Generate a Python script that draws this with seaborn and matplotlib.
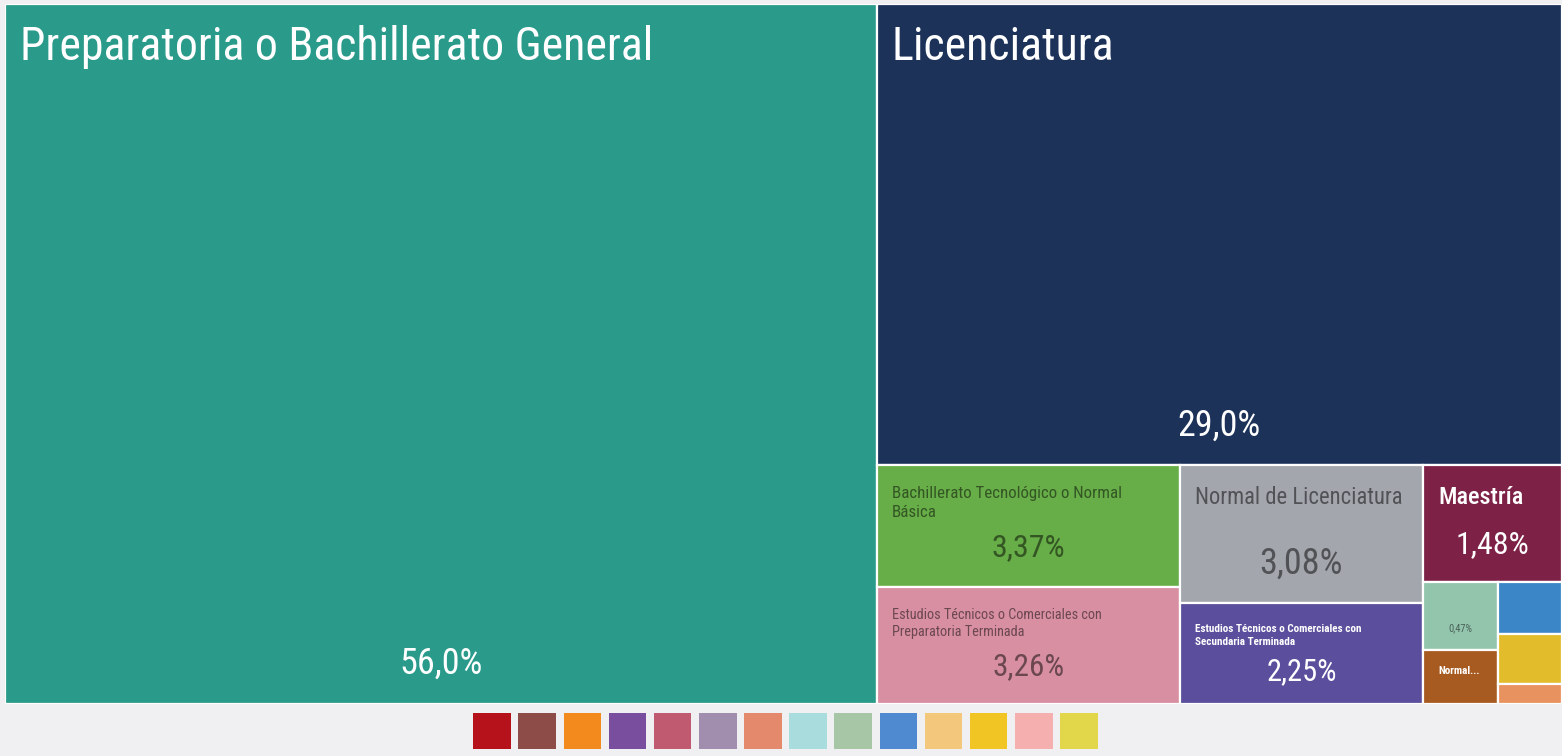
import matplotlib
matplotlib.use("Agg")
import matplotlib.pyplot as plt
from matplotlib import font_manager
from matplotlib.patches import Rectangle, Patch
import seaborn as sns

# data: share of each schooling level (%)
labels = ["Preparatoria o Bachillerato General", "Licenciatura",
          "Bachillerato Tecnológico o Normal Básica",
          "Estudios Técnicos o Comerciales con Preparatoria Terminada",
          "Normal de Licenciatura",
          "Estudios Técnicos o Comerciales con Secundaria Terminada",
          "Maestría", "", "Normal...", "", "", ""]
values = [56.0, 29.0, 3.37, 3.26, 3.08, 2.25, 1.48, 0.47, 0.37, 0.31, 0.29, 0.12]
value_labels = ["56,0%", "29,0%", "3,37%", "3,26%", "3,08%", "2,25%", "1,48%",
                "0,47%", "", "", "", ""]
tile_colors = ["#2A9A8B", "#1C3259", "#67AD48", "#D88FA2", "#A4A6AE", "#5B4E9C",
               "#7D2246", "#93C5AC", "#A85B21", "#3A86C6", "#E2BC2B", "#E8935F"]
legend_colors = ["#B5121B", "#8E4C48", "#F28A1E", "#7A4E9F", "#C05A70", "#A18DAE",
                 "#E5896D", "#A9DCDD", "#A6C6A6", "#4F89CF", "#F3C77C", "#F1C523",
                 "#F5AFAF", "#E2D64B"]

# text styling per tile
label_pt = [33, 33, 12.2, 10.3, 16.3, 8, 17.5, 0, 8, 0, 0, 0]
value_pt = [26, 26, 23, 22.5, 26, 22, 23, 7.5, 0, 0, 0, 0]
dark_text = [False, False, True, True, True, False, False, True, False, False, False, False]
label_weight = ["normal", "normal", "normal", "normal", "normal", "bold",
                "medium", "normal", "bold", "normal", "normal", "normal"]

sns.set_theme(style="white")
available = {f.name for f in font_manager.fontManager.ttflist}
font = next((f for f in ["Liberation Sans Narrow", "Roboto Condensed", "Open Sans Condensed",
                         "Lato", "Noto Sans"] if f in available), "DejaVu Sans")
plt.rcParams["font.family"] = [font, "DejaVu Sans"]

PHI = (1 + 5 ** 0.5) / 2


def squarify(vals, x0, y0, x1, y1, ratio=PHI):
    # squarified treemap, same rules as d3.treemapSquarify
    rects = [None] * len(vals)
    total = float(sum(vals))
    n = len(vals)
    i0 = 0
    while i0 < n:
        dx, dy = x1 - x0, y1 - y0
        s = lo = hi = vals[i0]
        alpha = max(dy / dx, dx / dy) / (total * ratio)
        beta = s * s * alpha
        best = max(hi / beta, beta / lo)
        i1 = i0 + 1
        while i1 < n:
            v = vals[i1]
            s2, lo2, hi2 = s + v, min(lo, v), max(hi, v)
            beta = s2 * s2 * alpha
            r = max(hi2 / beta, beta / lo2)
            if r > best:
                break
            s, lo, hi, best = s2, lo2, hi2, r
            i1 += 1
        if dx < dy:
            yb = y0 + dy * s / total if i1 < n else y1
            x = x0
            for i in range(i0, i1):
                w = dx * vals[i] / s
                rects[i] = (x, y0, w, yb - y0)
                x += w
            y0 = yb
        else:
            xb = x0 + dx * s / total if i1 < n else x1
            y = y0
            for i in range(i0, i1):
                h = dy * vals[i] / s
                rects[i] = (x0, y, xb - x0, h)
                y += h
            x0 = xb
        total -= s
        i0 = i1
    return rects


W, H = 1557, 700
fig = plt.figure(figsize=(15.62, 7.56), dpi=100, facecolor="#F0F0F2")
ax = fig.add_axes([5 / 1562, 52 / 756, W / 1562, H / 756])
ax.set_xlim(0, W)
ax.set_ylim(H, 0)
ax.axis("off")
renderer = fig.canvas.get_renderer()


def wrap(text, max_w, **kw):
    lines, cur = [], ""
    for word in text.split():
        trial = (cur + " " + word).strip()
        t = ax.text(0, 0, trial, **kw)
        width = t.get_window_extent(renderer).width
        t.remove()
        if width > max_w and cur:
            lines.append(cur)
            cur = word
        else:
            cur = trial
    lines.append(cur)
    return "\n".join(lines)


pad = 15
rects = squarify(values, 0, 0, W, H)
for i, (x, y, w, h) in enumerate(rects):
    ax.add_patch(Rectangle((x, y), w, h, facecolor=tile_colors[i],
                           edgecolor="white", linewidth=1.6))
    col = (0, 0, 0, 0.5) if dark_text[i] else "white"
    if labels[i] and label_pt[i]:
        kw = dict(fontsize=label_pt[i], fontweight=label_weight[i], color=col,
                  ha="left", va="top", linespacing=1.3)
        txt = wrap(labels[i], w - 2 * pad, **kw)
        ax.text(x + pad, y + min(21, 0.3 * h), txt, **kw)
    if value_labels[i]:
        ax.text(x + w / 2, y + h - min(40, 0.32 * h), value_labels[i],
                fontsize=value_pt[i], color=col, ha="center", va="center")

handles = [Patch(facecolor=c, edgecolor="none") for c in legend_colors]
fig.legend(handles=handles, labels=[""] * len(handles), ncol=len(handles),
           loc="center", bbox_to_anchor=(785.5 / 1562, 1 - 731 / 756),
           frameon=False, fontsize=10, handlelength=2.7, handleheight=3.6,
           handletextpad=0, columnspacing=0.55, borderpad=0)

fig.savefig("out.png", dpi=100, facecolor=fig.get_facecolor())
